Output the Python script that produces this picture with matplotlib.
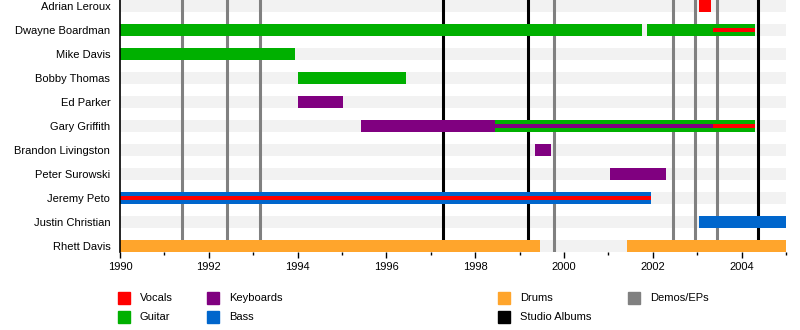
import matplotlib
matplotlib.use('Agg')
import matplotlib.pyplot as plt
from matplotlib.patches import Rectangle

plt.rcParams['font.family'] = ['Liberation Sans', 'DejaVu Sans']

# band members, top to bottom
members = ['Adrian Leroux', 'Dwayne Boardman', 'Mike Davis', 'Bobby Thomas',
           'Ed Parker', 'Gary Griffith', 'Brandon Livingston', 'Peter Surowski',
           'Jeremy Peto', 'Justin Christian', 'Rhett Davis']

# main periods: member, role, start, end
main_member = ['Adrian Leroux', 'Dwayne Boardman', 'Dwayne Boardman', 'Mike Davis',
               'Bobby Thomas', 'Ed Parker', 'Gary Griffith', 'Gary Griffith',
               'Brandon Livingston', 'Peter Surowski', 'Jeremy Peto',
               'Justin Christian', 'Rhett Davis', 'Rhett Davis']
main_role = ['Vocals', 'Guitar', 'Guitar', 'Guitar', 'Guitar', 'Keyboards',
             'Keyboards', 'Guitar', 'Keyboards', 'Keyboards', 'Bass', 'Bass',
             'Drums', 'Drums']
main_start = [2003.03, 1990.0, 2001.86, 1990.0, 1994.0, 1994.0, 1995.42, 1998.44,
              1999.34, 2001.03, 1990.0, 2003.03, 1990.0, 2001.43]
main_end = [2003.30, 2001.75, 2004.31, 1993.94, 1996.44, 1995.02, 1998.44, 2004.31,
            1999.70, 2002.29, 2001.97, 2005.0, 1999.45, 2005.0]

# secondary roles drawn as thin stripes
sub_member = ['Dwayne Boardman', 'Gary Griffith', 'Gary Griffith', 'Jeremy Peto']
sub_role = ['Vocals', 'Keyboards', 'Vocals', 'Vocals']
sub_start = [2003.36, 1998.44, 2003.36, 1990.0]
sub_end = [2004.31, 2004.31, 2004.31, 2001.97]

demos = [1991.40, 1992.41, 1993.15, 1999.77, 2002.45, 2002.94, 2003.44]
albums = [1997.27, 1999.18, 2004.36]

colors = {'Vocals': '#ff0000', 'Guitar': '#00b000', 'Keyboards': '#800080',
          'Bass': '#0066cc', 'Drums': '#ffa52c', 'Demos/EPs': '#808080',
          'Studio Albums': '#000000'}

fig = plt.figure(figsize=(8, 3.3), dpi=100)
ax = fig.add_axes([120 / 800, 78 / 330, 666 / 800, 252 / 330])

row = {m: i for i, m in enumerate(members)}

# background stripes
ax.barh(range(len(members)), 15, left=1990, height=0.5, color='#f2f2f2', zorder=0)

for x in demos:
    ax.axvline(x, color=colors['Demos/EPs'], lw=2.2, zorder=1)
for x in albums:
    ax.axvline(x, color=colors['Studio Albums'], lw=2.2, zorder=1)

for m, r, s, e in zip(main_member, main_role, main_start, main_end):
    ax.barh(row[m], e - s, left=s, height=0.5, color=colors[r], zorder=2)
for m, r, s, e in zip(sub_member, sub_role, sub_start, sub_end):
    ax.barh(row[m], e - s, left=s, height=0.18, color=colors[r], zorder=3)

ax.set_xlim(1990, 2005)
ax.set_ylim(10.25, -0.25)
ax.set_yticks(range(len(members)))
ax.set_yticklabels(members, fontsize=8)
ax.tick_params(axis='y', length=0, pad=7)
ax.set_xticks(range(1990, 2005, 2))
ax.set_xticks(range(1990, 2006), minor=True)
ax.tick_params(axis='x', which='major', length=4.5, width=1, labelsize=8, pad=3)
ax.tick_params(axis='x', which='minor', length=2.5, width=1)
for s in ['top', 'right', 'bottom']:
    ax.spines[s].set_visible(False)
ax.spines['left'].set_linewidth(1.2)
ax.spines['left'].set_zorder(4)

# legend
legend_items = [('Vocals', 118, 298), ('Guitar', 118, 317),
                ('Keyboards', 207, 298), ('Bass', 207, 317),
                ('Drums', 498, 298), ('Studio Albums', 498, 317),
                ('Demos/EPs', 628, 298)]
for name, px, py in legend_items:
    fig.add_artist(Rectangle((px / 800, (330 - py - 6) / 330), 12 / 800, 12 / 330,
                             transform=fig.transFigure, color=colors[name]))
    fig.text((px + 12 + 10) / 800, (330 - py) / 330, name, fontsize=8,
             va='center', ha='left')

fig.savefig('out.png', dpi=100)
